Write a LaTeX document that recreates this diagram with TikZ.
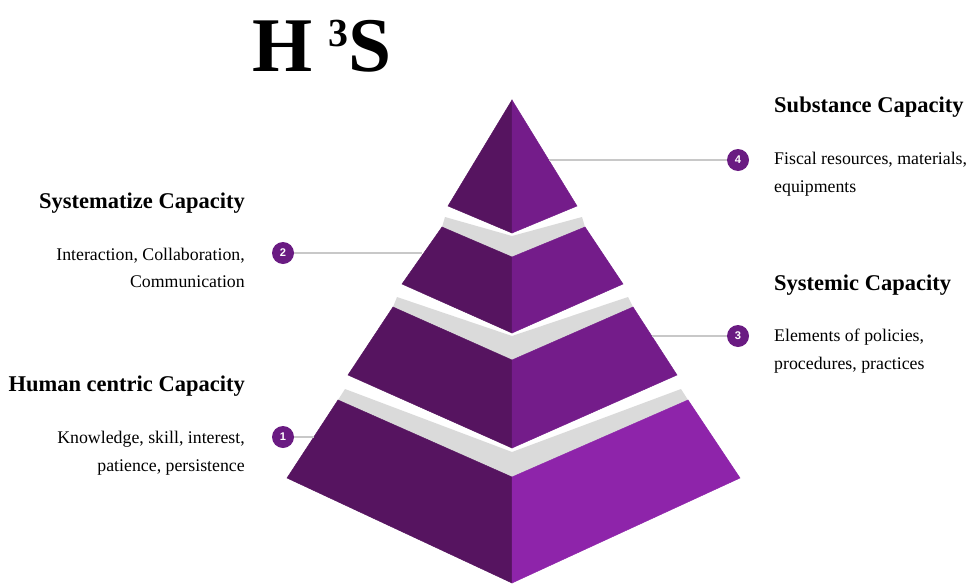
\documentclass[tikz,border=0pt]{standalone}
\usepackage{fontspec}
\setmainfont{Liberation Serif}
\setsansfont{Liberation Sans}
\usepackage{tikz}

\definecolor{darkface}{HTML}{561460}
\definecolor{lightface}{HTML}{741C8A}
\definecolor{brightface}{HTML}{8E24AA}
\definecolor{bandgrey}{HTML}{DADADA}
\definecolor{leadergrey}{HTML}{C8C8C8}
\definecolor{badgepurple}{HTML}{6A1B82}

\tikzset{
  leftface/.style={fill=darkface, draw=darkface, line width=0.4pt},
  rightface/.style={fill=lightface, draw=lightface, line width=0.4pt},
  band/.style={fill=bandgrey},
  leader/.style={draw=leadergrey, line width=1.2pt},
  badge/.style={circle, fill=badgepurple, minimum size=0.66cm, inner sep=0pt,
    text=white, font=\sffamily\bfseries\fontsize{9.5}{9.5}\selectfont},
  heading/.style={inner sep=0pt, font=\bfseries\fontsize{19.2}{22}\selectfont},
  body/.style={inner sep=0pt, font=\fontsize{15.2}{23.5}\selectfont}
}

\begin{document}
\begin{tikzpicture}[x=0.03cm,y=-0.03cm]

  \def\xmin{0}
  \def\xmax{973}
  \def\ymin{0}
  \def\ymax{585}

  % page
  \useasboundingbox (\xmin,\ymin) rectangle (\xmax,\ymax);

  % title
  \node[font=\bfseries\fontsize{66}{66}\selectfont, inner sep=0pt] (title) at (322,46)
    {H\hspace{0.2em}\raisebox{0.33em}{\fontsize{34}{34}\selectfont 3}S};

  % grey top faces
  \fill[band] (442,227) -- (512,257) -- (585,227) -- (582,217) -- (512,236) -- (445,217) -- cycle;
  \fill[band] (393,307) -- (512,360) -- (633,307) -- (628,297) -- (512,336) -- (397,297) -- cycle;
  \fill[band] (338,400) -- (512,477) -- (688,400) -- (681,389) -- (512,452) -- (345,389) -- cycle;

  % tier 4 (top)
  \fill[leftface]  (512,100) -- (448,206) -- (512,233) -- cycle;
  \fill[rightface] (512,100) -- (512,233) -- (577,206) -- cycle;
  % tier 2
  \fill[leftface]  (442,227) -- (512,257) -- (512,333) -- (402,284) -- cycle;
  \fill[rightface] (512,257) -- (585,227) -- (623,284) -- (512,333) -- cycle;
  % tier 3
  \fill[leftface]  (393,307) -- (512,360) -- (512,448) -- (348,375) -- cycle;
  \fill[rightface] (512,360) -- (633,307) -- (677,375) -- (512,448) -- cycle;
  % tier 1 (base)
  \fill[leftface]  (338,400) -- (512,477) -- (512,583) -- (287,478) -- cycle;
  \fill[rightface, fill=brightface, draw=brightface] (512,477) -- (688,400) -- (740,478) -- (512,583) -- cycle;

  % leader ends on the pyramid
  \coordinate (e4) at (549,160);
  \coordinate (e3) at (652,336);
  \coordinate (e2) at (422,253);
  \coordinate (e1) at (314,437);

  % badges
  \node[badge] (n4) at (738,160) {4};
  \node[badge] (n3) at (738,336) {3};
  \node[badge] (n2) at (283,253) {2};
  \node[badge] (n1) at (283,437) {1};

  \draw[leader] (n4) -- (e4);
  \draw[leader] (n3) -- (e3);
  \draw[leader] (n2) -- (e2);
  \draw[leader] (n1) -- (e1);

  % left texts
  \node[heading, anchor=east] (h2) at (245,203) {Systematize Capacity};
  \node[body, anchor=east, align=right] (t2) at (245,268)
    {Interaction, Collaboration,\\Communication};
  \node[heading, anchor=east] (h1) at (245,386) {Human centric Capacity};
  \node[body, anchor=east, align=right] (t1) at (245,453)
    {Knowledge, skill, interest,\\patience, persistence};

  % right texts
  \node[heading, anchor=west] (h4) at (774,107) {Substance Capacity};
  \node[body, anchor=west, align=left] (t4) at (774,174)
    {Fiscal resources, materials,\\equipments};
  \node[heading, anchor=west] (h3) at (774,285) {Systemic Capacity};
  \node[body, anchor=west, align=left] (t3) at (774,351)
    {Elements of policies,\\procedures, practices};

\end{tikzpicture}
\end{document}
